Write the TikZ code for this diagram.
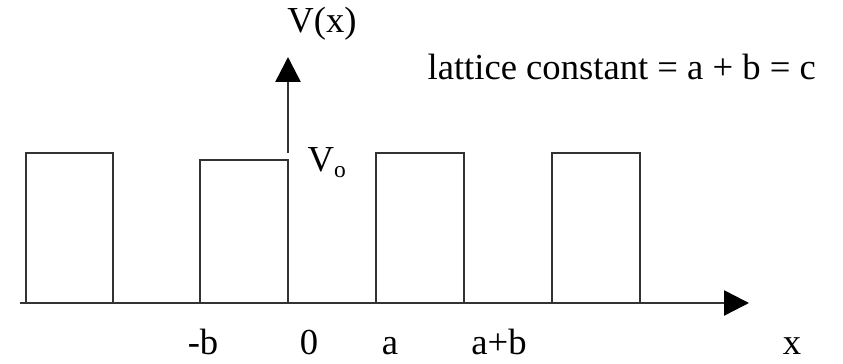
\documentclass[tikz,border=0pt]{standalone}
\usepackage{fontspec}
\setmainfont{Liberation Serif}
\usepackage{tikz}
\usetikzlibrary{arrows.meta}
\definecolor{linec}{HTML}{333333}
\tikzset{
  ar/.style={-{Triangle[length=8.5pt,width=8.5pt,black]},line width=0.85pt,linec},
  well/.style={draw=linec,line width=0.85pt},
  lbl/.style={font=\fontsize{12.5}{15}\selectfont,anchor=base,inner sep=0pt}
}

\begin{document}
\begin{tikzpicture}[x=0.12cm,y=0.12cm]
\useasboundingbox (0,0) rectangle (84.3,36.4);
% axes
\coordinate (xs) at (2,6.1);
\coordinate (xe) at (74.9,6.1);
\coordinate (ys) at (28.8,21.1);
\coordinate (ye) at (28.8,30.7);
\draw[ar] (xs)--(xe);
\draw[ar] (ys)--(ye);
% barriers
\draw[well] (2.6,6.1) rectangle (11.3,21.1);
\draw[well] (20,6.1) rectangle (28.8,20.4);
\draw[well] (37.6,6.1) rectangle (46.4,21.1);
\draw[well] (55.2,6.1) rectangle (64,21.1);
% labels
\node[lbl] (vx) at (32.2,33.1) {V(x)};
\node[lbl,anchor=base west] (v0) at (30.7,19.2) {V\raisebox{-2pt}{\fontsize{8}{8}\selectfont o}};
\node[lbl,anchor=base west] (lc) at (42.7,28.4) {lattice constant = a + b = c};
\node[lbl] (mb) at (20.3,0.9) {-b};
\node[lbl] (zr) at (30.9,0.9) {0};
\node[lbl] (pa) at (39,0.9) {a};
\node[lbl] (ab) at (49.9,0.9) {a+b};
\node[lbl] (xl) at (79.2,0.9) {x};
\end{tikzpicture}
\end{document}
